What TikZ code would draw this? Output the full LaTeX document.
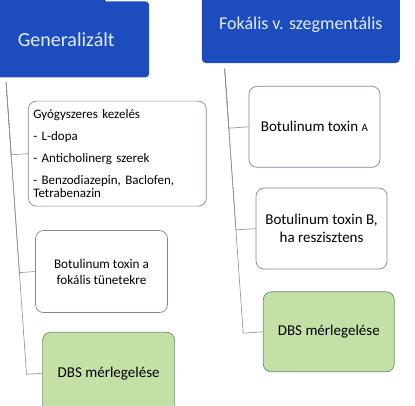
\documentclass[tikz,border=0pt]{standalone}
\usepackage{fontspec}
\setmainfont{Carlito}
\definecolor{hdrblue}{RGB}{28,76,190}
\definecolor{hdrtext}{RGB}{225,238,252}
\definecolor{boxline}{RGB}{130,130,165}
\definecolor{grfill}{RGB}{196,224,166}
\definecolor{grline}{RGB}{110,140,115}
\definecolor{treeline}{RGB}{140,140,150}
\tikzset{
  hdr/.style={fill=hdrblue, text=hdrtext, rounded corners=4pt, inner sep=0pt},
  leaf/.style={draw=boxline, line width=0.7pt, fill=white, rounded corners=8pt,
    minimum width=132pt, minimum height=82pt, align=center, inner sep=4pt,
    font=\fontsize{13.2}{16}\selectfont},
  rleaf/.style={leaf, minimum width=131pt, minimum height=81pt,
    font=\fontsize{15}{18}\selectfont},
  dbs/.style={fill=grfill, draw=grline, font=\fontsize{15}{18}\selectfont},
  tree/.style={draw=treeline, line width=0.6pt},
}
\begin{document}
\begin{tikzpicture}[x=1pt,y=-1pt]
\useasboundingbox (0,0) rectangle (415,406);
\clip (0,0) rectangle (415,406);
\begin{scope}[rotate around={4:(207,203)}]
  % headers
  \fill[hdrblue] (-60,-60) rectangle (120,40);
  \node[hdr, minimum width=166pt, minimum height=76pt, font=\fontsize{20}{24}\selectfont] (hL) at (78,30) {Generalizált};
  \node[hdr, minimum width=198pt, minimum height=76pt, font=\fontsize{18}{22}\selectfont] (hR) at (313,32) {Fokális v. szegmentális};
  % left column
  \node[leaf, minimum width=178pt, minimum height=105pt, text width=168pt, align=left,
        font=\fontsize{13}{13.5}\selectfont] (b1) at (121,147.5)
    {Gyógyszeres kezelés\\[8.5pt]- L-dopa\\[8.5pt]- Anticholinerg szerek\\[8.5pt]- Benzodiazepin, Baclofen,\\Tetrabenazin};
  \node[leaf] (b2) at (97,264) {Botulinum toxin a\\fokális tünetekre};
  \node[leaf, dbs] (b3) at (97,366) {DBS mérlegelése};
  % right column
  \node[rleaf] (rA) at (319.5,134.5) {Botulinum toxin {\fontsize{11}{13}\selectfont A}};
  \node[rleaf] (rB) at (319.5,236.5) {Botulinum toxin B,\\ha reszisztens};
  \node[rleaf, dbs, minimum height=80pt] (rC) at (319.5,340) {DBS mérlegelése};
  % tree lines
  \coordinate (lL) at (hL.south -| 15,0);
  \coordinate (lR) at (hR.south -| 234,0);
  \draw[tree] (lL) |- (b1.west);
  \draw[tree] (lL) |- (b2.west);
  \draw[tree] (lL) |- (b3.west);
  \draw[tree] (lR) |- (rA.west);
  \draw[tree] (lR) |- (rB.west);
  \draw[tree] (lR) |- (rC.west);
\end{scope}
\end{tikzpicture}
\end{document}
